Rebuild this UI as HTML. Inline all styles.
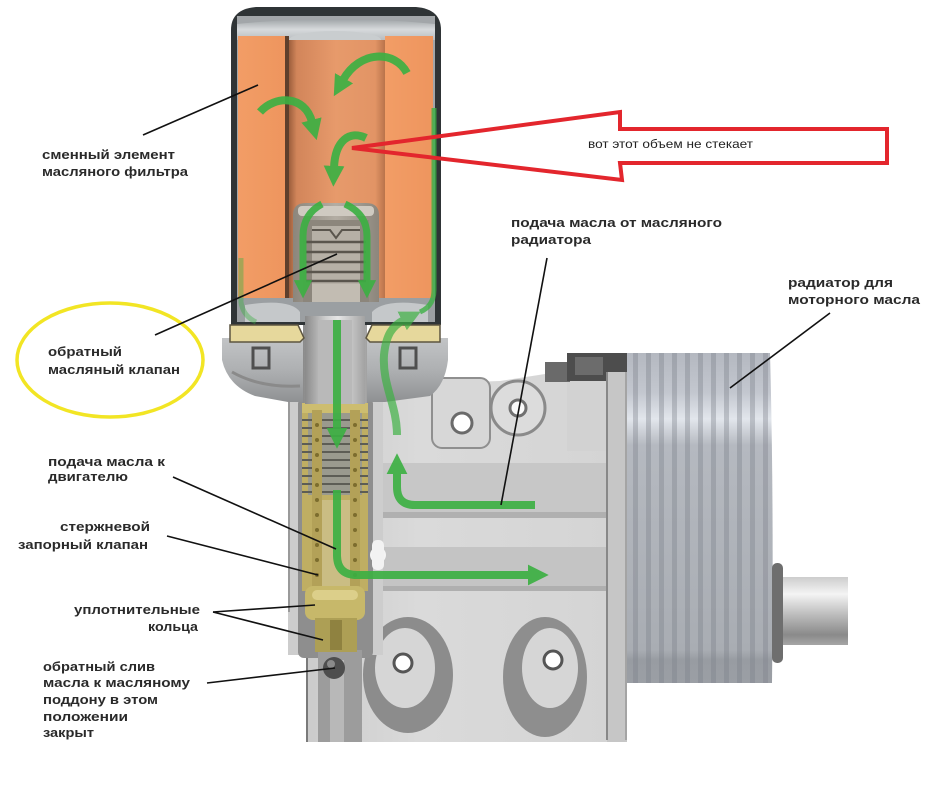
<!DOCTYPE html>
<html><head><meta charset="utf-8"><style>
html,body{margin:0;padding:0;background:#fff;}
svg{display:block;}
.lb{font-family:"Liberation Sans","DejaVu Sans",sans-serif;font-weight:bold;font-size:13px;fill:#2a2a2a;}
</style></head><body>
<svg width="936" height="786" viewBox="0 0 936 786" xmlns="http://www.w3.org/2000/svg">
<defs>
<marker id="ah" viewBox="0 0 10 10" refX="1" refY="5" markerWidth="2.6" markerHeight="2.6" orient="auto" markerUnits="strokeWidth"><path d="M0,0 L10,5 L0,10 z" fill="#3cb043"/></marker>
<marker id="ahs" viewBox="0 0 10 10" refX="1" refY="5" markerWidth="3" markerHeight="3" orient="auto" markerUnits="strokeWidth"><path d="M0,0 L10,5 L0,10 z" fill="#3cb043"/></marker>
<linearGradient id="gCenter" x1="0" x2="1" y1="0" y2="0">
<stop offset="0" stop-color="#8f5535"/><stop offset="0.1" stop-color="#d2855a"/><stop offset="0.5" stop-color="#e79a6b"/><stop offset="0.9" stop-color="#e29465"/><stop offset="1" stop-color="#b9734b"/></linearGradient>
<linearGradient id="gPad" x1="0" x2="1"><stop offset="0" stop-color="#f29d66"/><stop offset="1" stop-color="#ee955e"/></linearGradient>
<linearGradient id="gCap" x1="0" x2="0" y1="0" y2="1"><stop offset="0" stop-color="#9ea3a6"/><stop offset="0.5" stop-color="#d7dadc"/><stop offset="1" stop-color="#b8bcbf"/></linearGradient>
<linearGradient id="gCol" x1="0" x2="1"><stop offset="0" stop-color="#8a8a8a"/><stop offset="0.35" stop-color="#cfcfcf"/><stop offset="0.55" stop-color="#e6e6e6"/><stop offset="1" stop-color="#a2a2a2"/></linearGradient>
<linearGradient id="gBody" x1="0" x2="1"><stop offset="0" stop-color="#c9c9c9"/><stop offset="0.4" stop-color="#dadada"/><stop offset="1" stop-color="#d4d4d4"/></linearGradient>
<linearGradient id="gBase" x1="0" x2="0" y1="0" y2="1"><stop offset="0" stop-color="#c2c4c6"/><stop offset="0.5" stop-color="#aeb0b2"/><stop offset="1" stop-color="#8f9193"/></linearGradient>
<linearGradient id="gRad" x1="0" x2="0" y1="0" y2="1"><stop offset="0" stop-color="#b4b8c0"/><stop offset="0.12" stop-color="#c3c7cf"/><stop offset="0.2" stop-color="#e2e6ec"/><stop offset="0.28" stop-color="#b5b9c0"/><stop offset="0.9" stop-color="#a9adb3"/><stop offset="0.93" stop-color="#989ca2"/><stop offset="1" stop-color="#9b9fa5"/></linearGradient>
<linearGradient id="gPipe" x1="0" x2="0" y1="0" y2="1"><stop offset="0" stop-color="#cdcdcd"/><stop offset="0.25" stop-color="#f4f4f4"/><stop offset="0.55" stop-color="#bdbdbd"/><stop offset="0.85" stop-color="#8a8a8a"/><stop offset="1" stop-color="#a6a6a6"/></linearGradient>
<linearGradient id="gTube" x1="0" x2="1"><stop offset="0" stop-color="#8c867c"/><stop offset="0.5" stop-color="#b3ada3"/><stop offset="1" stop-color="#8c867c"/></linearGradient>
</defs>

<!-- ===== BODY ===== -->
<path d="M288 395 L288 615 Q290 640 307 652 L307 742 L615 742 L615 380 L567 380 L545 374 L500 381 L440 383 L425 392 Z" fill="url(#gBody)"/>
<line x1="307" y1="652" x2="307" y2="742" stroke="#7a7a7a" stroke-width="2"/>
<!-- channel bands -->
<rect x="380" y="463" width="227" height="54" fill="#c7c7c7"/>
<rect x="380" y="512" width="227" height="6" fill="#b0b0b0"/>
<rect x="380" y="547" width="227" height="43" fill="#c4c4c4"/>
<rect x="380" y="586" width="227" height="5" fill="#afafaf"/>
<!-- upper bosses -->
<rect x="432" y="378" width="58" height="70" rx="10" fill="#d7d7d7" stroke="#8f8f8f" stroke-width="2"/>
<circle cx="462" cy="423" r="10" fill="#fff" stroke="#6a6a6a" stroke-width="3"/>
<circle cx="518" cy="408" r="27" fill="#dcdcdc" stroke="#8a8a8a" stroke-width="3"/>
<circle cx="518" cy="408" r="8" fill="#fafafa" stroke="#707070" stroke-width="3"/>
<rect x="567" y="381" width="40" height="70" fill="#d2d2d2"/>
<rect x="545" y="362" width="25" height="20" fill="#6a6a6a"/>
<rect x="567" y="353" width="60" height="28" fill="#4d4d4d"/>
<rect x="575" y="357" width="28" height="18" fill="#6c6c6c"/>
<!-- lower bosses -->
<ellipse cx="408" cy="675" rx="45" ry="58" fill="#8c8c8c"/>
<ellipse cx="405" cy="668" rx="30" ry="40" fill="#d6d6d6"/>
<circle cx="403" cy="663" r="9" fill="#fff" stroke="#555" stroke-width="3"/>
<ellipse cx="545" cy="677" rx="42" ry="60" fill="#8e8e8e"/>
<ellipse cx="550" cy="668" rx="28" ry="40" fill="#d6d6d6"/>
<circle cx="553" cy="660" r="9" fill="#fff" stroke="#555" stroke-width="3"/>

<!-- bore housing -->
<rect x="288" y="395" width="95" height="260" fill="#cdcdcd"/>
<line x1="289" y1="395" x2="289" y2="612" stroke="#9a9a9a" stroke-width="2"/>
<rect x="298" y="398" width="75" height="260" rx="6" fill="#8e8e8e"/>
<rect x="318" y="650" width="44" height="92" fill="#9c9c9c"/>
<rect x="330" y="660" width="14" height="82" fill="#b8b8b8"/>
<circle cx="334" cy="668" r="11" fill="#4e4e4e"/>
<circle cx="331" cy="664" r="4" fill="#8a8a8a"/>
<!-- brass valve -->
<rect x="302" y="403" width="66" height="188" fill="#bfae63"/>
<rect x="308" y="413" width="54" height="82" fill="#9a9a8e"/>
<g stroke="#5d5d55" stroke-width="2">
<line x1="302" y1="420" x2="368" y2="420"/><line x1="302" y1="428" x2="368" y2="428"/><line x1="302" y1="436" x2="368" y2="436"/><line x1="302" y1="444" x2="368" y2="444"/><line x1="302" y1="452" x2="368" y2="452"/><line x1="302" y1="460" x2="368" y2="460"/><line x1="302" y1="468" x2="368" y2="468"/><line x1="302" y1="476" x2="368" y2="476"/><line x1="302" y1="484" x2="368" y2="484"/><line x1="302" y1="492" x2="368" y2="492"/>
</g>
<rect x="302" y="403" width="66" height="10" fill="#cdbd70"/>
<rect x="312" y="410" width="10" height="180" fill="#b3a158"/>
<rect x="350" y="410" width="10" height="180" fill="#b3a158"/>
<rect x="322" y="500" width="28" height="88" fill="#cabd84"/>
<g fill="#7c6d2e">
<circle cx="317" cy="425" r="2"/><circle cx="317" cy="440" r="2"/><circle cx="317" cy="455" r="2"/><circle cx="317" cy="470" r="2"/><circle cx="317" cy="485" r="2"/><circle cx="317" cy="500" r="2"/><circle cx="317" cy="515" r="2"/><circle cx="317" cy="530" r="2"/><circle cx="317" cy="545" r="2"/><circle cx="317" cy="560" r="2"/><circle cx="317" cy="575" r="2"/>
<circle cx="355" cy="425" r="2"/><circle cx="355" cy="440" r="2"/><circle cx="355" cy="455" r="2"/><circle cx="355" cy="470" r="2"/><circle cx="355" cy="485" r="2"/><circle cx="355" cy="500" r="2"/><circle cx="355" cy="515" r="2"/><circle cx="355" cy="530" r="2"/><circle cx="355" cy="545" r="2"/><circle cx="355" cy="560" r="2"/><circle cx="355" cy="575" r="2"/>
</g>
<rect x="305" y="586" width="60" height="34" rx="8" fill="#c7b86a"/>
<rect x="312" y="590" width="46" height="10" rx="5" fill="#dccf8a"/>
<rect x="315" y="618" width="42" height="34" fill="#ad9f55"/>
<rect x="330" y="620" width="12" height="30" fill="#8f8240"/>
<circle cx="378" cy="555" r="8" fill="#f4f4f4"/>
<rect x="372" y="540" width="12" height="30" rx="5" fill="#f2f2f2"/>

<!-- plate & radiator -->
<path d="M607 372 L627 372 L627 742 L615 742 Z" fill="#c4c4c4"/>
<line x1="608" y1="372" x2="608" y2="735" stroke="#8a8a8a" stroke-width="2"/>
<rect x="607" y="372" width="20" height="370" fill="#c6c6c6"/>
<line x1="607" y1="372" x2="607" y2="740" stroke="#888" stroke-width="2"/>
<line x1="626" y1="372" x2="626" y2="740" stroke="#999" stroke-width="1.5"/>
<path d="M627 353 L770 353 Q774 500 772 683 L627 683 Z" fill="url(#gRad)"/>
<g fill="#7d828b" opacity="0.38">
<rect x="633" y="353" width="5" height="330"/><rect x="646" y="353" width="5" height="330"/><rect x="659" y="353" width="5" height="330"/><rect x="672" y="353" width="5" height="330"/><rect x="685" y="353" width="5" height="330"/><rect x="698" y="353" width="5" height="330"/><rect x="711" y="353" width="5" height="330"/><rect x="724" y="353" width="5" height="330"/><rect x="737" y="353" width="5" height="330"/><rect x="750" y="353" width="5" height="330"/><rect x="763" y="353" width="5" height="330"/>
</g>
<rect x="772" y="563" width="11" height="100" rx="5" fill="#6e6e6e"/>
<rect x="783" y="577" width="65" height="68" fill="url(#gPipe)"/>

<!-- ===== BASE UNDER FILTER ===== -->
<path d="M222 338 L448 338 L448 360 Q445 385 430 396 L385 402 L288 402 L255 396 Q228 386 222 360 Z" fill="url(#gBase)"/>
<rect x="253" y="348" width="16" height="20" fill="none" stroke="#4f4f4f" stroke-width="3"/>
<rect x="400" y="348" width="16" height="20" fill="none" stroke="#4f4f4f" stroke-width="3"/>
<path d="M232 372 Q260 388 300 386" fill="none" stroke="#8a8a8a" stroke-width="3"/>
<rect x="303" y="315" width="64" height="88" fill="url(#gCol)"/>

<!-- ===== FILTER ===== -->
<path d="M231 325 L231 30 Q231 9 256 7 L416 7 Q441 9 441 30 L441 325 Z" fill="#2f3436"/>
<rect x="237" y="16" width="198" height="306" fill="#a2a6a9"/>
<path d="M237 24 Q336 14 435 24 L435 40 L237 40 Z" fill="url(#gCap)"/>
<ellipse cx="335" cy="40" rx="46" ry="9" fill="#c9cdcf"/>
<rect x="287" y="40" width="98" height="262" fill="url(#gCenter)"/>
<rect x="238" y="36" width="49" height="262" fill="url(#gPad)"/>
<rect x="385" y="36" width="48" height="264" fill="url(#gPad)"/>
<rect x="285" y="36" width="4" height="262" fill="#5e3f2c"/>
<!-- bottom plate inside shell -->
<path d="M237 298 L435 298 L435 322 L237 322 Z" fill="#9b9fa2"/>
<path d="M245 305 Q290 298 300 312 L300 322 L245 322 Z" fill="#c5c8ca"/>
<path d="M372 312 Q385 298 428 305 L428 322 L372 322 Z" fill="#c5c8ca"/>
<!-- gasket -->
<path d="M230 325 L298 325 L304 338 L300 342 L230 342 Z" fill="#e6d89c" stroke="#5d5540" stroke-width="1.5"/>
<path d="M440 325 L372 325 L366 338 L370 342 L440 342 Z" fill="#e6d89c" stroke="#5d5540" stroke-width="1.5"/>
<rect x="305" y="316" width="60" height="88" fill="url(#gCol)"/>
<rect x="318" y="320" width="34" height="84" fill="#b9b9b9"/>
<!-- center tube -->
<path d="M293 302 L293 215 Q293 203 306 203 L366 203 Q379 203 379 215 L379 302 Z" fill="url(#gTube)"/>
<rect x="298" y="206" width="76" height="10" rx="4" fill="#cfcac1"/>
<rect x="303" y="220" width="66" height="82" fill="#8c867c"/>
<rect x="312" y="226" width="48" height="76" fill="#b6b0a6"/>
<path d="M312 230 L330 230 L336 238 L342 230 L360 230" fill="none" stroke="#5a554d" stroke-width="2"/>
<g stroke="#5a554d" stroke-width="2.5">
<line x1="306" y1="242" x2="366" y2="242"/><line x1="306" y1="252" x2="366" y2="252"/><line x1="306" y1="262" x2="366" y2="262"/><line x1="306" y1="272" x2="366" y2="272"/><line x1="306" y1="281" x2="366" y2="281"/>
</g>
<rect x="312" y="284" width="48" height="18" fill="#c2bcb2"/>

<!-- ===== GREEN ARROWS ===== -->
<g fill="none" stroke="#3cb043" stroke-width="8" stroke-linejoin="round" opacity="0.92">
<path d="M407 73 C395 50, 360 50, 343 80" marker-end="url(#ah)"/>
<path d="M260 112 C275 95, 305 95, 312 122" marker-end="url(#ah)"/>
<path d="M366 138 C350 130, 335 140, 334 168" marker-end="url(#ah)"/>
<path d="M322 204 Q303 214 303 236 L303 282" stroke-width="7" marker-end="url(#ah)"/>
<path d="M345 204 Q367 214 367 236 L367 282" stroke-width="7" marker-end="url(#ah)"/>
<path d="M434 108 L434 290 Q434 306 420 312" stroke-width="5" opacity="0.85"/>
<path d="M241 258 L241 302 Q243 316 256 322" stroke-width="5" opacity="0.45"/>
<path d="M337 320 L337 430" marker-end="url(#ah)"/>
<path d="M337 490 L337 555 Q337 575 357 575 L530 575" marker-end="url(#ah)"/>
<path d="M535 505 L415 505 Q397 505 397 487 L397 472" marker-end="url(#ah)"/>
<path d="M397 435 C397 405, 382 385, 384 355 C386 335, 392 326, 404 320" opacity="0.75" marker-end="url(#ah)"/>
</g>

<!-- ===== ANNOTATIONS ===== -->
<polygon points="352,148 620,112 620,129 887,129 887,163 620,163 622,180" fill="none" stroke="#e3262d" stroke-width="4" stroke-linejoin="miter"/>
<text x="588" y="148" font-family="Liberation Sans, DejaVu Sans, sans-serif" font-size="12" fill="#222" textLength="165" lengthAdjust="spacingAndGlyphs">вот этот объем не стекает</text>
<ellipse cx="110" cy="360" rx="93" ry="57" fill="none" stroke="#f2e524" stroke-width="3.5"/>

<g stroke="#111" stroke-width="1.6">
<line x1="143" y1="135" x2="258" y2="85"/>
<line x1="155" y1="335" x2="337" y2="254"/>
<line x1="547" y1="258" x2="501" y2="505"/>
<line x1="830" y1="313" x2="730" y2="388"/>
<line x1="173" y1="477" x2="336" y2="549"/>
<line x1="167" y1="536" x2="318" y2="575"/>
<line x1="213" y1="612" x2="315" y2="605"/>
<line x1="213" y1="612" x2="323" y2="640"/>
<line x1="207" y1="683" x2="335" y2="668"/>
</g>

<g class="lb">
<text class="lb" x="42" y="159" textLength="133" lengthAdjust="spacingAndGlyphs">сменный элемент</text>
<text class="lb" x="42" y="176" textLength="146" lengthAdjust="spacingAndGlyphs">масляного фильтра</text>
<text class="lb" x="48" y="356" textLength="74" lengthAdjust="spacingAndGlyphs">обратный</text>
<text class="lb" x="48" y="374" textLength="132" lengthAdjust="spacingAndGlyphs">масляный клапан</text>
<text class="lb" x="511" y="227" textLength="211" lengthAdjust="spacingAndGlyphs">подача масла от масляного</text>
<text class="lb" x="511" y="244" textLength="80" lengthAdjust="spacingAndGlyphs">радиатора</text>
<text class="lb" x="788" y="287" textLength="105" lengthAdjust="spacingAndGlyphs">радиатор для</text>
<text class="lb" x="788" y="304" textLength="132" lengthAdjust="spacingAndGlyphs">моторного масла</text>
<text class="lb" x="48" y="466" textLength="117" lengthAdjust="spacingAndGlyphs">подача масла к</text>
<text class="lb" x="48" y="481" textLength="80" lengthAdjust="spacingAndGlyphs">двигателю</text>
<text class="lb" x="60" y="531" textLength="90" lengthAdjust="spacingAndGlyphs">стержневой</text>
<text class="lb" x="18" y="549" textLength="130" lengthAdjust="spacingAndGlyphs">запорный клапан</text>
<text class="lb" x="74" y="614" textLength="126" lengthAdjust="spacingAndGlyphs">уплотнительные</text>
<text class="lb" x="148" y="631" textLength="50" lengthAdjust="spacingAndGlyphs">кольца</text>
<text class="lb" x="43" y="671" textLength="112" lengthAdjust="spacingAndGlyphs">обратный слив</text>
<text class="lb" x="43" y="687" textLength="147" lengthAdjust="spacingAndGlyphs">масла к масляному</text>
<text class="lb" x="43" y="704" textLength="115" lengthAdjust="spacingAndGlyphs">поддону в этом</text>
<text class="lb" x="43" y="721" textLength="85" lengthAdjust="spacingAndGlyphs">положении</text>
<text class="lb" x="43" y="737" textLength="51" lengthAdjust="spacingAndGlyphs">закрыт</text>
</g>
</svg>
</body></html>
